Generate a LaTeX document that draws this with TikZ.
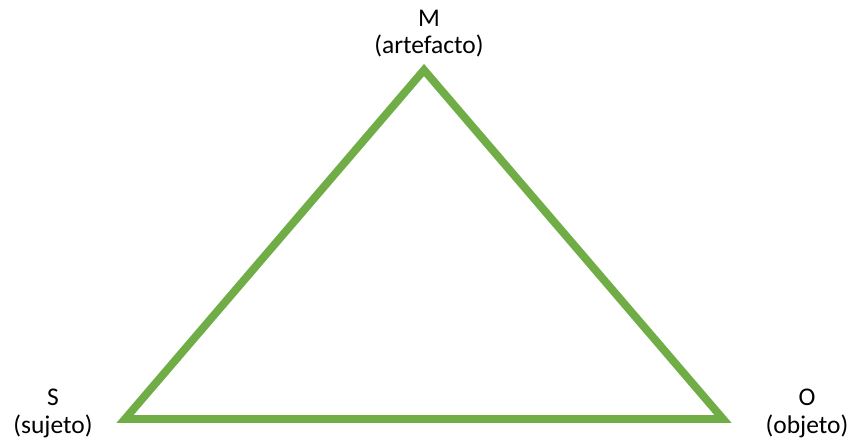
\documentclass[tikz,border=0pt]{standalone}
\usepackage{fontspec}
\setmainfont{Carlito}
\usetikzlibrary{positioning}
\definecolor{trigreen}{HTML}{70AD47}
\tikzset{
  every picture/.style={line width=0.6pt},
  vlbl/.style={align=center,font=\fontsize{14.5}{15.5}\selectfont,inner sep=1pt},
  edge/.style={draw=trigreen,line width=4.5pt,line join=miter},
}
\begin{document}
\begin{tikzpicture}
\useasboundingbox (0,0) rectangle (17,8.84);
% vertices
\coordinate (m) at (8.48,7.44);
\coordinate (s) at (2.50,0.46);
\coordinate (o) at (14.46,0.46);
% triangle
\draw[edge] (m) -- (o) -- (s) -- cycle;
% labels
\node[vlbl] (mlbl) at (8.58,8.17) {M\\(artefacto)};
\node[vlbl] (slbl) at (1.06,0.57) {S\\(sujeto)};
\node[vlbl] (olbl) at (16.14,0.57) {O\\(objeto)};
\end{tikzpicture}
\end{document}
